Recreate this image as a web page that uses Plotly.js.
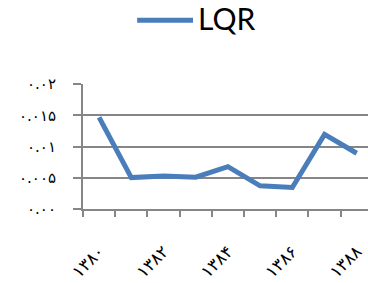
<!DOCTYPE html>
<html>
<head>
<meta charset="utf-8">
<script src="https://cdn.plot.ly/plotly-3.0.1.min.js"></script>
<style>html,body{margin:0;padding:0;background:#fff;}#chart{width:368px;height:283px;}</style>
</head>
<body>
<div id="chart"></div>
<script>
var years = [1380, 1381, 1382, 1383, 1384, 1385, 1386, 1387, 1388];
var lqr = [0.01465, 0.00503, 0.0053, 0.0051, 0.00678, 0.00371, 0.00344, 0.01194, 0.00892];
var xTickVals = [1380, 1382, 1384, 1386, 1388];
var xTickText = ['۱۳۸۰', '۱۳۸۲', '۱۳۸۴', '۱۳۸۶', '۱۳۸۸'];
var yTickVals = [0, 0.005, 0.01, 0.015, 0.02];
var yTickText = ['۰.۰۰', '۰.۰۰۵', '۰.۰۱', '۰.۰۱۵', '۰.۰۲'];
var seriesName = 'LQR';
var lineColor = '#4a7ebb';

var trace = {
  x: years, y: lqr, type: 'scatter', mode: 'lines', name: seriesName,
  line: {color: lineColor, width: 5},
  showlegend: false
};
var layout = {
  width: 368, height: 283,
  margin: {l: 83, r: 0, t: 84, b: 74, autoexpand: false},
  paper_bgcolor: '#ffffff', plot_bgcolor: '#ffffff',
  showlegend: false,
  shapes: [{type: 'line', xref: 'paper', yref: 'paper', x0: 0.19, x1: 0.386, y0: 1.511, y1: 1.511,
            line: {color: lineColor, width: 5}}],
  annotations: [{text: seriesName, xref: 'paper', yref: 'paper', x: 0.398, y: 1.525, xanchor: 'left', yanchor: 'middle',
                 showarrow: false, font: {family: 'Lato, sans-serif', size: 30, color: '#000000'}}],
  xaxis: {
    range: [1379.5, 1388.35], tickvals: xTickVals, ticktext: xTickText, tickangle: -45,
    ticks: '', showgrid: false, zeroline: false, showline: true, linecolor: '#868686', linewidth: 2,
    ticklabelstandoff: 24, automargin: false,
    tickfont: {family: 'DejaVu Sans, sans-serif', size: 17, color: '#000000'},
    minor: {ticks: 'outside', tick0: 1379.5, dtick: 1, ticklen: 6, tickwidth: 2, tickcolor: '#868686', showgrid: false}
  },
  yaxis: {
    range: [0, 0.02], tickvals: yTickVals, ticktext: yTickText,
    ticks: 'outside', ticklen: 8, tickwidth: 2, tickcolor: '#868686',
    showgrid: true, gridcolor: '#868686', gridwidth: 2, zeroline: false,
    showline: true, linecolor: '#868686', linewidth: 2,
    ticklabelstandoff: 14, automargin: false,
    tickfont: {family: 'DejaVu Sans, sans-serif', size: 15, color: '#000000'}
  }
};
Plotly.newPlot('chart', [trace], layout, {staticPlot: true, displayModeBar: false});
</script>
</body>
</html>
